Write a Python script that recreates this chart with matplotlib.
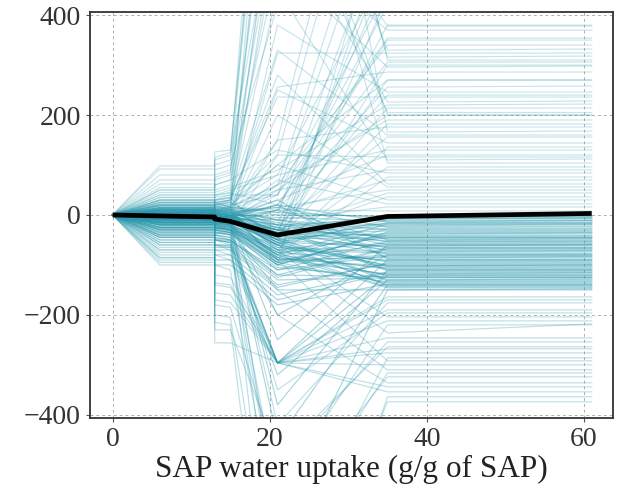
import matplotlib
matplotlib.use("Agg")
import matplotlib.pyplot as plt

# Grid of SAP water uptake values where the model was evaluated
grid_x = [0, 6, 13, 13, 15, 21, 35, 61]

# Individual conditional expectation curves (centred at x = 0).
# Each tuple: value at 6 (held to 13), after step at 13, at 15, at 21, at 35, at 61
ice_upper = [
    (20, 25, 30, 700, 378, 378),
    (10, 15, 20, 40, 354, 354),
    (35, 40, 45, 900, 330, 332),
    (-5, 0, 5, 324, 324, 324),
    (5, 10, 15, 1100, 316, 318),
    (0, -10, -5, 20, 306, 306),
    (40, 60, 70, 500, 296, 298),
    (15, 20, 30, 256, 286, 286),
    (-10, -20, -15, 10, 256, 258),
    (25, 30, 35, 236, 236, 236),
    (0, 5, 10, 600, 226, 228),
    (-20, -30, -25, -40, 214, 214),
    (55, 80, 90, 800, 200, 200),
    (5, 10, 15, 60, 190, 190),
    (-15, -20, -10, 150, 176, 176),
    (70, 100, 110, 1300, 166, 168),
    (10, 20, 25, -20, 156, 156),
    (0, 0, 5, 250, 144, 144),
    (30, 40, 50, 80, 130, 130),
    (-5, -10, 0, 30, 120, 120),
    (20, 25, 30, 450, 110, 112),
    (-25, -40, -30, -60, 96, 96),
    (45, 60, 70, 130, 84, 84),
    (10, 10, 15, 5, 70, 70),
    (0, -5, 0, 200, 56, 56),
    (-10, -15, -10, -30, 44, 44),
    (15, 20, 20, 100, 30, 30),
    (5, 5, 10, -10, 16, 16),
    (92, 126, 130, 1000, 600, 600),
    (62, 90, 100, 420, 480, 480),
    (25, 30, 40, 40, 450, 450),
    (98, 110, 120, 650, 700, 700),
    (28, 35, 40, 550, 370, 370),
    (-8, -12, -5, 60, 340, 340),
    (50, 70, 80, 1200, 310, 310),
    (12, 18, 25, -30, 270, 270),
    (-15, -25, -20, 380, 246, 246),
    (35, 45, 55, 90, 220, 222),
    (8, 12, 18, 700, 205, 205),
    (-12, -18, -12, -50, 182, 182),
    (22, 30, 35, 330, 160, 160),
    (0, 2, 8, -70, 136, 136),
    (-18, -28, -22, 120, 116, 116),
    (40, 50, 60, 900, 104, 104),
    (3, 5, 10, 50, 90, 90),
    (-8, -12, -8, -80, 76, 76),
    (18, 22, 28, 280, 62, 62),
    (-2, 0, 4, 15, 50, 50),
    (8, 8, 12, -40, 36, 36),
    (-6, -6, -2, 70, 22, 22),
    (12, 14, 16, 10, 8, 8),
    (80, 115, 125, 1100, 800, 800),
    (50, 75, 85, 600, 520, 520),
    (5, 8, 12, -40, 520, 520),
    (-3, -6, -2, 0, 600, 600),
    (10, 12, 18, 60, 750, 750),
    (-12, -18, -14, -80, 440, 440),
    (18, 24, 30, 120, 900, 900),
    (0, 2, 6, -20, 480, 480),
    (-6, -9, -4, 40, 680, 680),
    (22, 28, 34, -60, 560, 560),
    (7, 9, 14, 150, 1000, 1000),
    (-15, -22, -18, 10, 420, 420),
    (3, 6, 10, -100, 640, 640),
    (12, 16, 22, 80, 500, 500),
    (-8, -14, -10, -30, 380, 380),
    (30, 38, 44, 20, 350, 350),
    (-2, -4, 0, -50, 300, 300),
    (15, 20, 26, 100, 270, 270),
    (6, 8, 12, -10, 240, 240),
    (-10, -16, -12, 50, 200, 200),
]

ice_middle = [
    (0, -2, -5, -30, -4, -2),
    (5, 0, -5, -20, -8, -6),
    (-5, -10, -15, -60, -10, -10),
    (10, 5, 0, 20, -14, -12),
    (-10, -15, -20, -80, -18, -18),
    (2, 0, -10, -40, -22, -20),
    (-3, -5, -10, -50, -26, -26),
    (15, 10, 5, -10, -30, -30),
    (-20, -25, -30, -100, -34, -34),
    (0, -5, -10, -45, -38, -36),
    (8, 5, 0, -30, -42, -42),
    (-8, -12, -18, -70, -46, -46),
    (-2, -5, -8, 10, -50, -48),
    (20, 15, 10, -20, -54, -54),
    (-15, -20, -25, -90, -58, -58),
    (3, 0, -5, -55, -62, -60),
    (-30, -40, -45, -120, -66, -66),
    (0, -8, -10, -35, -70, -70),
    (12, 8, 5, -65, -74, -72),
    (-6, -10, -15, -40, -78, -78),
    (-25, -30, -35, -110, -82, -82),
    (4, 0, -5, 30, -86, -84),
    (-12, -18, -25, -75, -90, -90),
    (0, -5, -8, -60, -94, -94),
    (-40, -60, -60, -140, -98, -98),
    (6, 2, -2, -50, -102, -100),
    (-18, -25, -30, -85, -106, -106),
    (-4, -10, -12, -25, -110, -110),
    (-50, -80, -80, -160, -114, -114),
    (10, 5, 0, -90, -118, -116),
    (-8, -14, -20, -70, -122, -122),
    (-35, -50, -55, -130, -126, -126),
    (2, -3, -8, -45, -130, -128),
    (-22, -30, -35, -100, -134, -134),
    (-60, -100, -100, -180, -138, -138),
    (0, -6, -10, -55, -142, -142),
    (-14, -20, -25, -80, -146, -146),
    (-45, -70, -70, -150, -150, -148),
    (1, -1, -4, -20, -20, -18),
    (-7, -9, -12, -48, -45, -45),
    (9, 6, 2, -15, -60, -60),
    (-11, -16, -22, -95, -80, -80),
    (-3, -8, -12, -60, -100, -100),
    (30, 25, 15, 5, -5, -5),
    (-28, -35, -40, -105, -125, -125),
    (3, 1, -2, -25, -3, -3),
    (-4, -6, -9, -35, -7, -7),
    (7, 4, 1, -5, -12, -11),
    (-9, -12, -16, -55, -16, -16),
    (14, 10, 6, 15, -24, -23),
    (-16, -22, -28, -85, -28, -28),
    (0, -3, -6, -40, -32, -32),
    (-24, -30, -36, -95, -40, -40),
    (5, 2, -3, -30, -44, -44),
    (-1, -4, -7, -10, -48, -48),
    (18, 12, 8, -35, -52, -52),
    (-13, -18, -22, -75, -56, -56),
    (6, 3, 0, -50, -64, -64),
    (-33, -45, -50, -125, -68, -68),
    (-2, -6, -9, -30, -72, -72),
    (11, 7, 3, -70, -76, -76),
    (-19, -26, -31, -90, -84, -84),
    (1, -3, -6, 20, -88, -88),
    (-9, -14, -19, -65, -92, -92),
    (-42, -65, -65, -145, -96, -96),
    (4, 0, -4, -55, -104, -104),
    (-16, -22, -27, -80, -108, -108),
    (-6, -11, -14, -30, -112, -112),
    (-55, -90, -90, -170, -116, -116),
    (8, 4, -1, -85, -120, -120),
    (-30, -45, -50, -120, -124, -124),
    (0, -4, -9, -50, -132, -132),
    (-20, -28, -32, -95, -136, -136),
    (-3, -7, -11, -60, -140, -140),
    (-12, -18, -23, -75, -144, -144),
    (25, 18, 12, 0, -2, -1),
    (-27, -33, -38, -100, -36, -36),
    (2, -2, -6, -40, -16, -15),
    (-37, -48, -52, -110, -52, -52),
    (13, 9, 4, -25, -66, -66),
    (-17, -24, -29, -88, -102, -102),
    (-20, -40, -45, -296, -120, -120),
    (-10, -15, -20, -450, -140, -140),
    (-30, -50, -55, -296, -90, -90),
    (-5, -8, -12, -380, -110, -110),
    (-15, -25, -30, -600, -150, -150),
    (0, -5, -10, -250, -60, -60),
    (-25, -35, -40, -200, -80, -80),
    (-45, -60, -62, -320, -130, -130),
]

ice_lower = [
    (-70, -136, -140, -296, -164, -164),
    (-5, -10, -15, -420, -176, -176),
    (-85, -156, -160, -296, -190, -190),
    (0, -5, -10, -60, -204, -204),
    (-40, -60, -65, -550, -220, -220),
    (-20, -30, -35, -70, -236, -218),
    (-50, -170, -175, -296, -246, -246),
    (-100, -230, -230, -480, -264, -264),
    (-60, -80, -90, -296, -276, -276),
    (-30, -40, -50, -700, -286, -286),
    (-86, -256, -256, -296, -300, -300),
    (-10, -20, -30, -150, -310, -310),
    (-45, -60, -70, -600, -324, -324),
    (0, -5, -10, -200, -336, -336),
    (-75, -120, -125, -296, -354, -354),
    (-25, -35, -40, -900, -374, -374),
    (-90, -200, -205, -800, -450, -450),
    (-65, -140, -145, -296, -170, -170),
    (-15, -25, -30, -350, -196, -196),
    (-35, -50, -55, -296, -212, -212),
    (-80, -180, -185, -500, -254, -254),
    (-55, -70, -80, -296, -268, -268),
    (-10, -15, -20, -90, -292, -292),
    (-70, -100, -110, -650, -316, -316),
    (-40, -50, -60, -296, -344, -344),
    (-95, -215, -220, -1000, -364, -364),
]

# Averaged partial dependence curve
pdp_mean = [0, -2, -4, -8, -13, -40, -3, 3]

x_ticks = [0, 20, 40, 60]
y_ticks = [-400, -200, 0, 200, 400]

plt.rcParams['font.family'] = ['Liberation Serif', 'DejaVu Serif']

fig = plt.figure(figsize=(6.28, 5.04), dpi=100)
ax = fig.add_axes([0.143, 0.171, 0.833, 0.805])

line_color = '#2a98ad'
group_alpha = {0: 0.26, 1: 0.4, 2: 0.3}
for gi, group in enumerate((ice_upper, ice_middle, ice_lower)):
    for a, b, c, d, e, f in group:
        ax.plot(grid_x, [0, a, a, b, c, d, e, f], color=line_color,
                lw=0.85, alpha=group_alpha[gi], zorder=2)

ax.plot(grid_x, pdp_mean, color='black', lw=3.4, zorder=5,
        solid_capstyle='butt')

ax.set_xlim(-2.9, 63.7)
ax.set_ylim(-406, 406)
ax.set_xticks(x_ticks)
ax.set_yticks(y_ticks)
ax.set_yticklabels(['\u2212400', '\u2212200', '0', '200', '400'])
ax.grid(True, linestyle=(0, (3, 3)), color='#b0b0b0', lw=0.7, zorder=0)
ax.set_axisbelow(True)
ax.tick_params(labelsize=20, length=3, width=0.8, color='#555555',
               labelcolor='#333333')
for s in ax.spines.values():
    s.set_color('#333333')
    s.set_linewidth(1.3)
ax.set_xlabel('SAP water uptake (g/g of SAP)', fontsize=22.5, color='#222222',
              labelpad=2)

fig.savefig('out.png', dpi=100)
